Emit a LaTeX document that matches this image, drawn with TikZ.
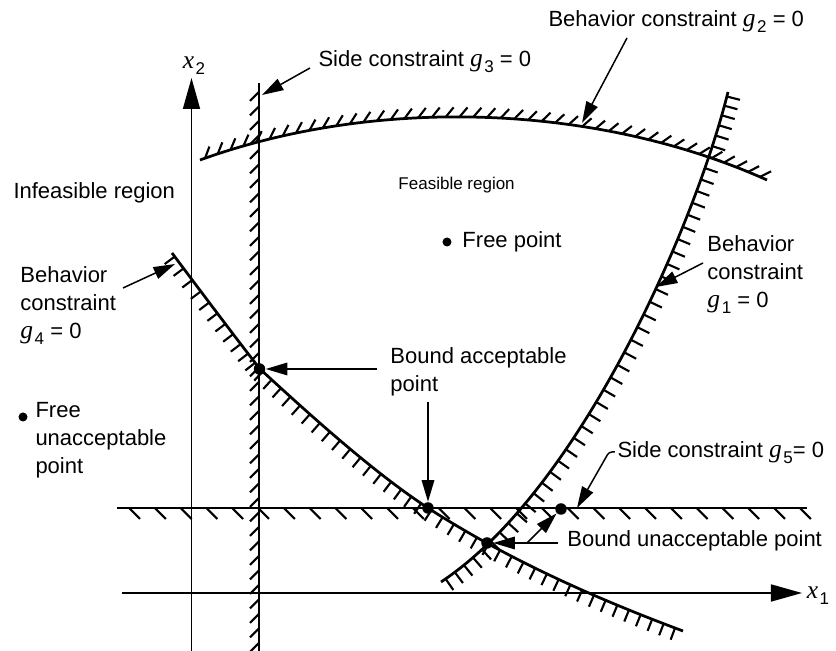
\documentclass[tikz,border=0pt]{standalone}
\usepackage{fontspec}
\setmainfont{Liberation Sans}
\newfontfamily\lserif{Liberation Serif}
\usetikzlibrary{arrows.meta}
\newcommand{\gv}[2]{{\fontsize{10.2}{11}\selectfont\lserif\itshape #1}\kern0.6pt\raisebox{-2.4pt}{\fontsize{6.8}{6.8}\selectfont #2}}
\begin{document}
\begin{tikzpicture}[x=0.4pt,y=-0.4pt,
  every node/.style={inner sep=0pt, font=\fontsize{8.8}{11.2}\selectfont},
  lbl/.style={anchor=west, align=left},
  cons/.style={line width=1.1pt},
  tick/.style={line width=0.85pt},
  axis/.style={line width=0.66pt, -{Triangle[length=12.4pt,width=6.8pt]}},
  lead/.style={line width=0.6pt, -{Triangle[length=8.6pt,width=5pt]}},
  dot/.style={circle, fill=black, minimum size=4.6pt},
  fdot/.style={circle, fill=black, minimum size=3.6pt},
  hatU/.pic={\draw[line width=0.85pt] (0pt,0pt) -- (3.2pt,3.8pt);},
  hatA/.pic={\draw[line width=0.85pt] (0pt,0pt) -- (0pt,-5.4pt);},
  hatB/.pic={\draw[line width=0.85pt] (0pt,0pt) -- (0pt,-5pt);}
]
\useasboundingbox (0,0) rectangle (836,651);

% axes
\coordinate (x1s) at (122,593); \coordinate (x1e) at (802,593);
\coordinate (x2s) at (191.5,651); \coordinate (x2e) at (191.5,78);
\draw[axis] (x1s) -- (x1e);
\draw[axis] (x2s) -- (x2e);
\node (x1lab) at (818,596) {\gv{x}{1}};
\node (x2lab) at (194,66) {\gv{x}{2}};

% side constraint g3 (vertical)
\coordinate (g3t) at (259,83); \coordinate (g3b) at (259,651);
\draw[cons] (g3t) -- (g3b);
\foreach \i in {0,...,38} {\draw[tick] (259,92+14.5*\i) -- ++(-9,9);}

% side constraint g5 (horizontal)
\coordinate (g5l) at (117,508); \coordinate (g5r) at (807,508);
\draw[cons] (g5l) -- (g5r);
\foreach \i in {0,...,26} {\draw[tick] (129+25.8*\i,508) -- ++(11,11);}

% behavior constraint g2
\coordinate (g2a) at (200,160); \coordinate (g2b) at (380,95);
\coordinate (g2c) at (600,105); \coordinate (g2d) at (767,180);
\draw[cons] (g2a) .. controls (g2b) and (g2c) .. (g2d);
\foreach \k in {0,...,42} {\pgfmathsetmacro\t{(\k+0.4)/43}
  \path (g2a) .. controls (g2b) and (g2c) .. (g2d) pic[pos=\t, sloped]{hatU};}

% behavior constraint g1
\coordinate (g1a) at (441,582); \coordinate (g1b) at (580,490);
\coordinate (g1c) at (695,225); \coordinate (g1d) at (728,92);
\draw[cons] (g1a) .. controls (g1b) and (g1c) .. (g1d);
\foreach \k in {0,...,44} {\pgfmathsetmacro\t{(\k+0.5)/45}
  \path (g1a) .. controls (g1b) and (g1c) .. (g1d) pic[pos=\t, sloped]{hatA};}

% behavior constraint g4 (three pieces)
\coordinate (g4a) at (172,253); \coordinate (g4b) at (205,297);
\coordinate (g4c) at (235,337); \coordinate (g4d) at (260,369);
\coordinate (g4e) at (310,415); \coordinate (g4f) at (373,472);
\coordinate (g4g) at (428,508); \coordinate (g4h) at (510,561);
\coordinate (g4i) at (600,600); \coordinate (g4j) at (683,631);
\draw[cons] (g4a) .. controls (g4b) and (g4c) .. (g4d)
  .. controls (g4e) and (g4f) .. (g4g) .. controls (g4h) and (g4i) .. (g4j);
\foreach \k in {0,...,10} {\pgfmathsetmacro\t{(\k+0.3)/11}
  \path (g4a) .. controls (g4b) and (g4c) .. (g4d) pic[pos=\t, sloped]{hatB};}
\foreach \k in {0,...,16} {\pgfmathsetmacro\t{(\k+0.3)/17}
  \path (g4d) .. controls (g4e) and (g4f) .. (g4g) pic[pos=\t, sloped]{hatB};}
\foreach \k in {0,...,21} {\pgfmathsetmacro\t{(\k+0.3)/22}
  \path (g4g) .. controls (g4h) and (g4i) .. (g4j) pic[pos=\t, sloped]{hatB};}

% points
\node[dot] (pA1) at (259.5,369) {};
\node[dot] (pA2) at (428,508) {};
\node[dot] (pU1) at (487,543) {};
\node[dot] (pU2) at (561,509) {};
\node[fdot] (fp) at (447,242) {};
\node[fdot] (fu) at (23,417) {};

% labels
\node[lbl] (g3lab) at (318,62) {Side constraint \gv{g}{3} = 0};
\node[lbl] (g2lab) at (548,22) {Behavior constraint \gv{g}{2} = 0};
\node[lbl] (infeas) at (13,193) {Infeasible region};
\node[lbl, font=\fontsize{6.8}{8}\selectfont] (feas) at (398,185) {Feasible region};
\node[lbl] (fptext) at (462,242) {Free point};
\node[lbl] (g4lab) at (20,306) {Behavior\\constraint\\\gv{g}{4} = 0};
\node[lbl] (g1lab) at (707,275) {Behavior\\constraint\\\gv{g}{1} = 0};
\node[lbl] (futext) at (35,440) {Free\\unacceptable\\point};
\node[lbl] (bap) at (390,371.5) {Bound acceptable\\point};
\node[lbl] (bup) at (567,541) {Bound unacceptable point};
\node[lbl] (g5lab) at (617,453) {Side constraint \gv{g}{5}= 0};

% leaders
\coordinate (g3tail) at (310,68); \coordinate (g3tip) at (262,95);
\draw[lead] (g3tail) -- (g3tip);
\coordinate (g2tail) at (627,38); \coordinate (g2tip) at (582,123);
\draw[lead] (g2tail) -- (g2tip);
\coordinate (g4tail) at (123,288); \coordinate (g4tip) at (175,264);
\draw[lead] (g4tail) -- (g4tip);
\coordinate (g1tail) at (703,263); \coordinate (g1tip) at (656,287);
\draw[lead] (g1tail) -- (g1tip);
\coordinate (bapA) at (377,369);
\draw[lead] (bapA) -- (pA1);
\coordinate (bapB) at (428,402);
\draw[lead] (bapB) -- (pA2);
\coordinate (bupA) at (558,543);
\draw[lead] (bupA) -- (pU1);
\coordinate (bupB) at (527,543);
\draw[lead] (bupB) -- (pU2);
\coordinate (g5a) at (615,452); \coordinate (g5b) at (609,452); \coordinate (g5tip) at (577,508);
\draw[lead, rounded corners=1.2pt] (g5a) -- (g5b) -- (g5tip);
\end{tikzpicture}
\end{document}
